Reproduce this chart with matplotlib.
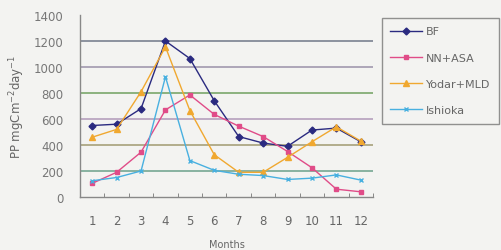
import matplotlib
matplotlib.use("Agg")
import matplotlib.pyplot as plt
from matplotlib.ticker import FixedLocator

months = [1, 2, 3, 4, 5, 6, 7, 8, 9, 10, 11, 12]
month_labels = [str(m) for m in months]
bf = [550, 560, 680, 1200, 1065, 740, 465, 415, 390, 515, 530, 425]
nn_asa = [105, 190, 345, 670, 785, 635, 545, 465, 350, 225, 60, 40]
yodar_mld = [460, 520, 810, 1155, 665, 325, 190, 190, 305, 425, 540, 430]
ishioka = [125, 150, 200, 925, 280, 205, 175, 165, 135, 145, 170, 130]
yticks = [0, 200, 400, 600, 800, 1000, 1200, 1400]
grid_colors = {200: "#6aa08a", 400: "#a09a70", 600: "#b098b8", 800: "#70a060",
               1000: "#9a90a8", 1200: "#707888"}

bg = "#f3f3f1"
fig = plt.figure(figsize=(5.02, 2.51), dpi=100, facecolor=bg)
ax = fig.add_axes([80/502, 1-198/251, (373-80)/502, (198-16)/251])
ax.set_facecolor(bg)

for v, c in grid_colors.items():
    ax.axhline(v, color=c, lw=1.1, zorder=1)

ax.plot(months, bf, color="#2a2a80", marker="D", ms=3.5, lw=1.0, label="BF", zorder=3)
ax.plot(months, nn_asa, color="#e04c88", marker="s", ms=3.5, lw=1.0, label="NN+ASA", zorder=3)
ax.plot(months, yodar_mld, color="#f0a830", marker="^", ms=4, lw=1.0, label="Yodar+MLD", zorder=3)
ax.plot(months, ishioka, color="#48b0e0", marker="x", ms=3.5, lw=1.0, label="Ishioka", zorder=3)

ax.set_xlim(0.5, 12.5)
ax.set_ylim(0, 1400)
ax.set_yticks(yticks)
ax.set_xticks(months)
ax.set_xticklabels(month_labels)
ax.xaxis.set_minor_locator(FixedLocator([i + 0.5 for i in range(0, 13)]))
ax.tick_params(axis="x", which="major", length=0, labelsize=8.5, colors="#666666", pad=12)
ax.tick_params(axis="x", which="minor", length=3, direction="in", color="#777777")
ax.tick_params(axis="y", length=0, labelsize=8.5, colors="#777777", pad=12)
for s in ["top", "right"]:
    ax.spines[s].set_visible(False)
for s in ["left", "bottom"]:
    ax.spines[s].set_color("#888888")
    ax.spines[s].set_linewidth(1.0)

ax.set_xlabel("Months", fontsize=7, color="#666666", labelpad=9)
ax.set_ylabel("PP mgCm$^{-2}$day$^{-1}$", fontsize=8.5, color="#666666", labelpad=5)

leg = fig.legend(loc="upper left", bbox_to_anchor=(376/502, 1-13/251), fontsize=8,
                 frameon=True, fancybox=False, borderpad=0.8, labelspacing=1.45,
                 handlelength=2.8, handletextpad=0.4)
leg.get_frame().set_edgecolor("#777777")
leg.get_frame().set_facecolor(bg)
leg.get_frame().set_linewidth(1.0)
for t in leg.get_texts():
    t.set_color("#666666")

fig.savefig("out.png", dpi=100, facecolor=bg)
